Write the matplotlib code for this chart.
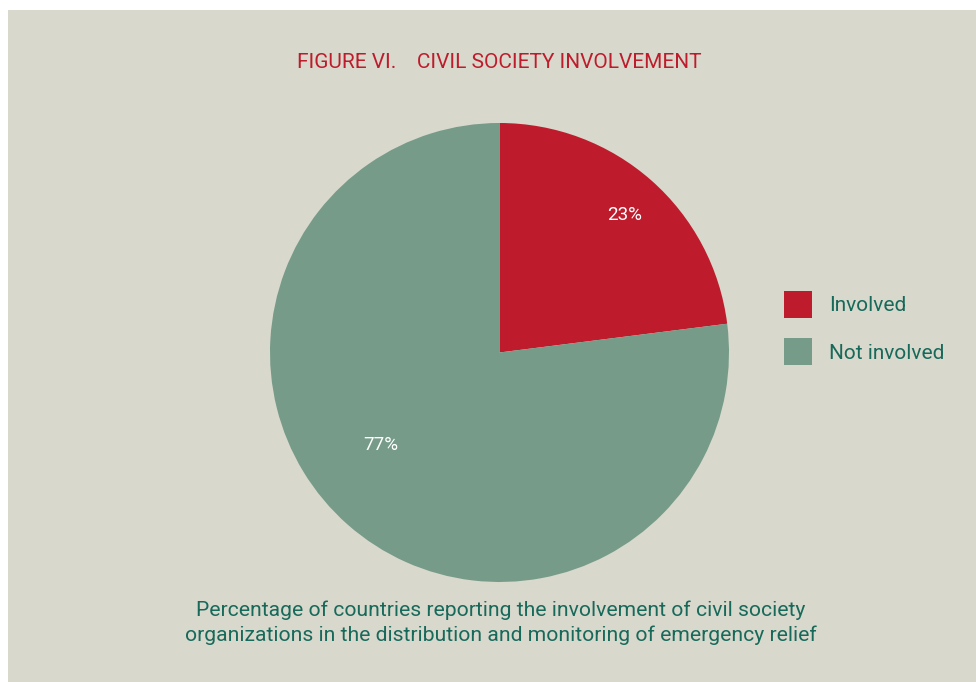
import matplotlib.pyplot as plt
from matplotlib.patches import Rectangle

labels = ['Involved', 'Not involved']
values = [23, 77]
pct_labels = ['23%', '77%']
colors = ['#be1c2c', '#769b89']

W, H = 976, 682
plt.rcParams['font.family'] = ['Roboto', 'DejaVu Sans']

fig = plt.figure(figsize=(W / 100, H / 100), dpi=100, facecolor='white')
# beige panel (white strip on the left and top)
fig.patches.append(Rectangle((8 / W, 0), 1 - 8 / W, 1 - 10 / H, transform=fig.transFigure,
                             facecolor='#d8d8cc', edgecolor='none', zorder=-10))

cx, cy, r = 499.5, 352.5, 229.5
ax = fig.add_axes([(cx - r) / W, (H - cy - r) / H, 2 * r / W, 2 * r / H])
ax.set_zorder(1)

wedges, _ = ax.pie(values, colors=colors, startangle=90, counterclock=False, radius=1)
# pie() resets the limits, so set them afterwards
ax.set_xlim(-1, 1)
ax.set_ylim(-1, 1)
ax.set_aspect('equal')
ax.axis('off')

# percentage labels
ax.text(125 / r, 138 / r, pct_labels[0], color='white', fontsize=13.5, ha='center', va='center')
ax.text(-119 / r, -93 / r, pct_labels[1], color='white', fontsize=13.5, ha='center', va='center')

fig.text(cx / W, 1 - 62.5 / H, 'FIGURE VI.    CIVIL SOCIETY INVOLVEMENT', color='#be1c2c',
         fontsize=15, ha='center', va='center')
fig.text(501 / W, 1 - 622.5 / H,
         'Percentage of countries reporting the involvement of civil society\n'
         'organizations in the distribution and monitoring of emergency relief',
         color='#17695a', fontsize=15.2, ha='center', va='center', linespacing=1.37)

leg = fig.legend(wedges, labels, loc='upper left', bbox_to_anchor=(784 / W, 1 - 291 / H),
                 frameon=False, fontsize=15, handlelength=1.345, handleheight=1.64,
                 handletextpad=0.8, labelspacing=0.95, borderpad=0, borderaxespad=0)
for t in leg.get_texts():
    t.set_color('#17695a')

fig.savefig('out.png', dpi=100, facecolor='white')
